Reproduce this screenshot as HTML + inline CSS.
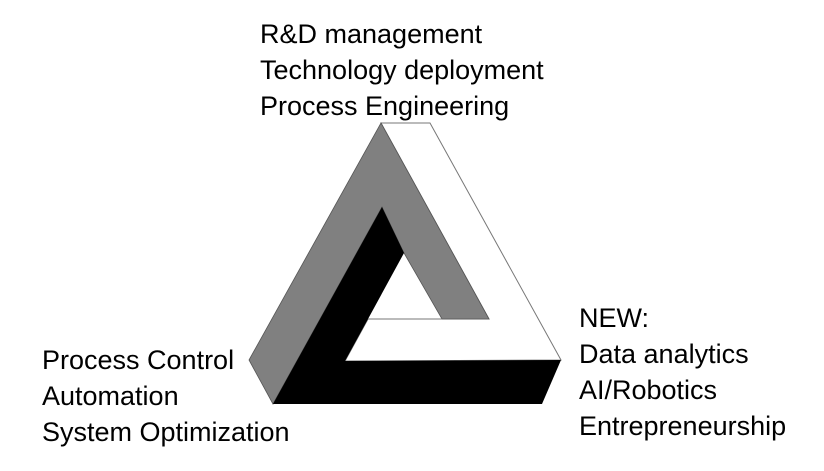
<!DOCTYPE html>
<html><head><style>
body{margin:0;width:824px;height:471px;background:#fff;position:relative;overflow:hidden;font-family:"Liberation Sans",sans-serif;}
.t{position:absolute;font-size:27px;line-height:36px;color:#000;white-space:nowrap;}
</style></head><body>
<svg width="824" height="471" style="position:absolute;left:0;top:0">
<polygon points="381,123 430,123 561,360 345,361 368,319 489,319" fill="#fff" stroke="#777" stroke-width="1"/>
<polygon points="381,123 249,360 273,404 382,207 404,253 442,319 489,319" fill="#808080" stroke="#555" stroke-width="0.8"/>
<polygon points="273,404 382,207 404,253 368,319 345,361 561,360 542,404" fill="#000"/>
<line x1="368" y1="319" x2="442" y2="319" stroke="#777" stroke-width="1"/>
</svg>
<div class="t" style="left:260px;top:16px">R&amp;D management<br>Technology deployment<br>Process Engineering</div>
<div class="t" style="left:42px;top:342px">Process Control<br>Automation<br>System Optimization</div>
<div class="t" style="left:579px;top:300px">NEW:<br>Data analytics<br>AI/Robotics<br>Entrepreneurship</div>
</body></html>
